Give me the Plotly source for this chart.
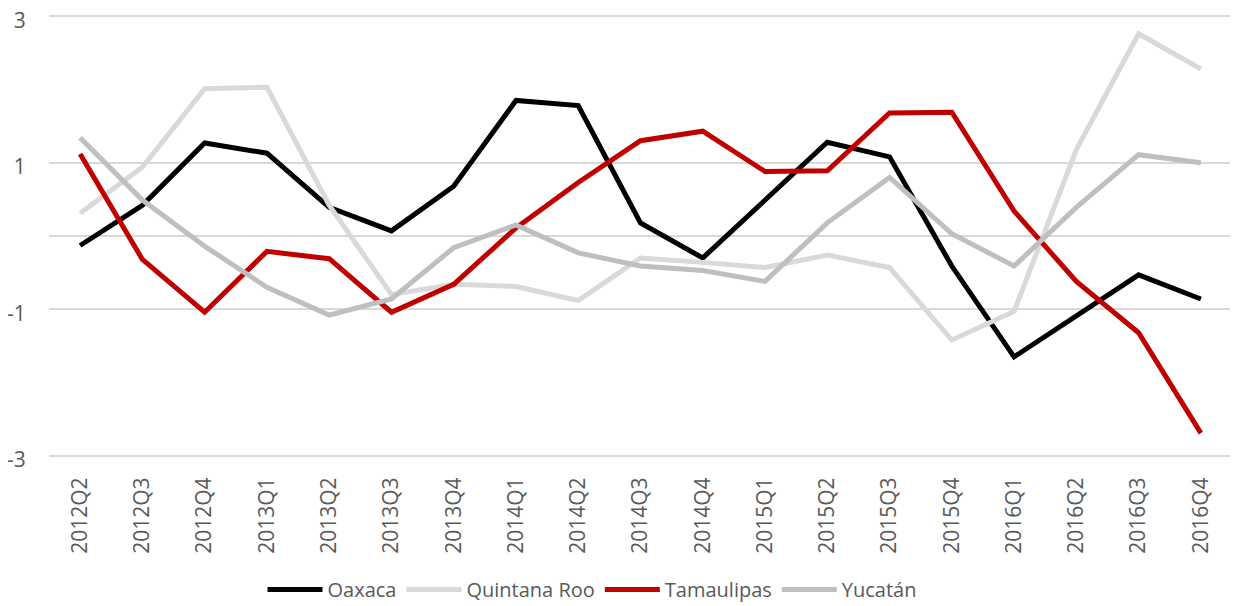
import plotly.graph_objects as go

quarters = ["2012Q2", "2012Q3", "2012Q4", "2013Q1", "2013Q2", "2013Q3", "2013Q4",
            "2014Q1", "2014Q2", "2014Q3", "2014Q4", "2015Q1", "2015Q2", "2015Q3",
            "2015Q4", "2016Q1", "2016Q2", "2016Q3", "2016Q4"]

oaxaca = [-0.13, 0.42, 1.27, 1.13, 0.39, 0.07, 0.68, 1.85, 1.78, 0.18, -0.30,
          0.49, 1.28, 1.08, -0.41, -1.65, -1.08, -0.53, -0.86]
quintana_roo = [0.31, 0.94, 2.01, 2.03, 0.42, -0.80, -0.66, -0.69, -0.88, -0.30, -0.36,
                -0.43, -0.26, -0.43, -1.42, -1.03, 1.18, 2.76, 2.28]
tamaulipas = [1.12, -0.32, -1.04, -0.21, -0.31, -1.04, -0.66, 0.11, 0.73, 1.30, 1.43,
              0.88, 0.89, 1.68, 1.69, 0.34, -0.62, -1.32, -2.69]
yucatan = [1.34, 0.49, -0.14, -0.70, -1.08, -0.86, -0.16, 0.15, -0.23, -0.41, -0.47,
           -0.62, 0.18, 0.80, 0.03, -0.41, 0.39, 1.11, 1.00]

series = [
    ("Oaxaca", oaxaca, "#000000"),
    ("Quintana Roo", quintana_roo, "#D9D9D9"),
    ("Tamaulipas", tamaulipas, "#C00000"),
    ("Yucatán", yucatan, "#BFBFBF"),
]

y_ticks = [-3, -1, 1, 3]
y_tick_text = ["-3", "-1", "1", "3"]

fig = go.Figure()
for name, vals, color in series:
    fig.add_trace(go.Scatter(x=quarters, y=vals, name=name, mode="lines",
                             line=dict(color=color, width=5)))

font_family = "Open Sans, Noto Sans, sans-serif"
fig.update_layout(
    width=1230, height=598,
    margin=dict(l=41, r=6, t=6, b=148, autoexpand=False),
    paper_bgcolor="white", plot_bgcolor="white",
    font=dict(family=font_family, color="#595959", size=18),
    showlegend=True,
    legend=dict(orientation="h", x=0.459, xanchor="center", y=-0.252, yanchor="top",
                font=dict(size=20, color="#595959"), itemwidth=55,
                traceorder="normal"),
    xaxis=dict(type="category", range=[-0.5, len(quarters) - 0.5],
               showgrid=False, showline=False, tickangle=-90, automargin=False,
               ticks="outside", ticklen=10, tickcolor="rgba(0,0,0,0)",
               ticklabeloverflow="allow",
               tickfont=dict(size=21, color="#595959")),
    yaxis=dict(range=[-3.03, 3.03], tickvals=y_ticks, ticktext=y_tick_text, automargin=False,
               showgrid=True, gridcolor="#D9D9D9",
               gridwidth=1.5, zeroline=True, zerolinecolor="#D9D9D9", zerolinewidth=1.5,
               showline=False, ticks="outside", ticklen=18, tickcolor="rgba(0,0,0,0)",
               ticklabeloverflow="allow", ticklabelshift=4,
               tickfont=dict(size=21, color="#595959")),
)

fig.write_html("out.html")
